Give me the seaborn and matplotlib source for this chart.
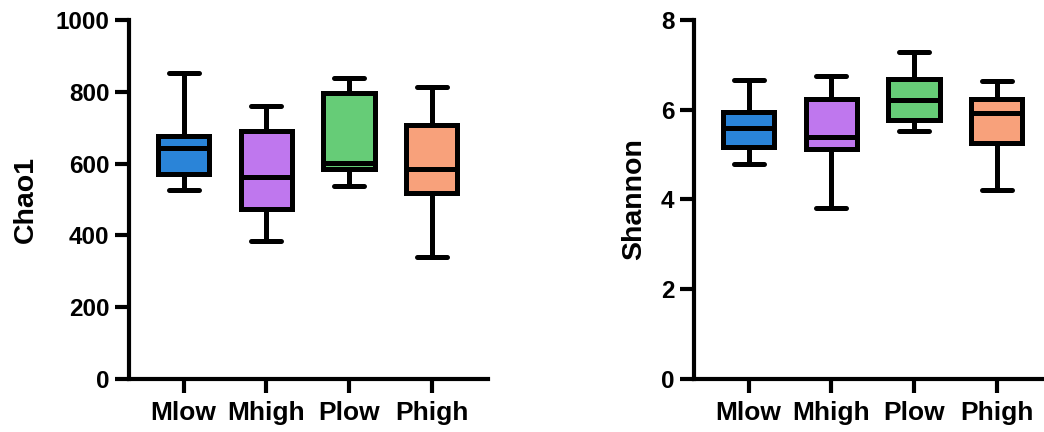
import matplotlib
matplotlib.use("Agg")
import matplotlib.pyplot as plt
import seaborn as sns
import pandas as pd

# five-number summaries: min, q1, median, q3, max
groups = ["Mlow", "Mhigh", "Plow", "Phigh"]
chao1 = {
    "Mlow": [526, 571, 643, 678, 853],
    "Mhigh": [385, 474, 563, 691, 760],
    "Plow": [538, 584, 603, 796, 839],
    "Phigh": [341, 517, 584, 707, 812],
}
shannon = {
    "Mlow": [4.80, 5.17, 5.60, 5.95, 6.66],
    "Mhigh": [3.80, 5.12, 5.40, 6.25, 6.75],
    "Plow": [5.53, 5.77, 6.21, 6.68, 7.29],
    "Phigh": [4.21, 5.26, 5.92, 6.25, 6.64],
}
colors = ["#2A84D8", "#BF77EE", "#66CC77", "#F8A17B"]


def to_frame(d):
    rows = [(g, v) for g in groups for v in d[g]]
    return pd.DataFrame(rows, columns=["group", "value"])


sns.set_style("ticks", {"axes.edgecolor": "black", "text.color": "black",
                        "xtick.color": "black", "ytick.color": "black",
                        "axes.labelcolor": "black"})
plt.rcParams["font.family"] = ["Liberation Sans", "DejaVu Sans"]
plt.rcParams["font.weight"] = "bold"

fig = plt.figure(figsize=(10.44, 4.32), dpi=100)
ax1 = fig.add_axes([0.1236, 0.1227, 0.3439, 0.831])
ax2 = fig.add_axes([0.6648, 0.1227, 0.3439, 0.831])

lw = 3.6
panels = [(ax1, chao1, "Chao1", 1000, [0, 200, 400, 600, 800, 1000], 12),
          (ax2, shannon, "Shannon", 8, [0, 2, 4, 6, 8], 10)]

for ax, d, label, ymax, ticks, lpad in panels:
    df = to_frame(d)
    sns.boxplot(data=df, x="group", y="value", hue="group", order=groups,
                palette=colors, saturation=1, whis=(0, 100), width=0.62,
                linewidth=lw, linecolor="black", legend=False, ax=ax,
                medianprops={"color": "black", "linewidth": lw},
                capprops={"linewidth": lw}, whiskerprops={"linewidth": lw})
    # shorten caps
    for line in ax.lines:
        xd = line.get_xdata()
        yd = line.get_ydata()
        if len(xd) == 2 and yd[0] == yd[1] and abs(xd[1] - xd[0]) < 0.5:
            c = (xd[0] + xd[1]) / 2
            line.set_xdata([c - 0.18, c + 0.18])
    ax.set_xlim(-0.66, 3.68)
    ax.set_ylim(0, ymax)
    ax.set_yticks(ticks)
    ax.set_xlabel("")
    ax.set_ylabel(label, fontsize=20.5, fontweight="bold", labelpad=lpad)
    sns.despine(ax=ax)
    ax.spines["left"].set_linewidth(3)
    ax.spines["bottom"].set_linewidth(3)
    ax.tick_params(axis="both", width=3, length=10, color="black")
    ax.tick_params(axis="y", pad=4, labelsize=17.5)
    ax.tick_params(axis="x", pad=6, labelsize=19)
    for t in ax.get_xticklabels() + ax.get_yticklabels():
        t.set_fontweight("bold")

fig.savefig("out.png", dpi=100)
